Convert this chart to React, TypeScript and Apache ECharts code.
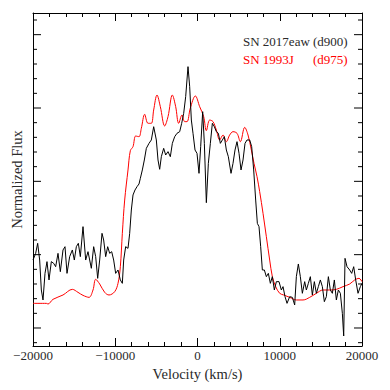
import React, { useEffect, useRef } from "react";
import * as echarts from "echarts";

const X_MIN = -20000;
const X_MAX = 20000;
const Y_MIN = -0.2455;
const Y_MAX = 4.2955;

const xTickInterval = 10000;

// SN 2017eaw (d900) — black
const eawVel = [
  -20000, -19676, -19433, -19189, -18987, -18784, -18541, -18298, -18054, -17771,
  -17487, -17244, -16960, -16677, -16352, -16109, -15866, -15542, -15217, -14974,
  -14731, -14488, -14245, -13920, -13596, -13313, -12907, -12624, -12380, -12137,
  -11894, -11610, -11408, -11164, -10921, -10678, -10435, -10192, -9949, -9665,
  -9381, -9138, -8976, -8733, -8449, -8246, -8044, -7841, -7598, -7355,
  -7111, -6949, -6706, -6463, -6220, -5896, -5612, -5328, -5004, -4801,
  -4599, -4396, -4112, -3869, -3585, -3302, -3058, -2775, -2491, -2167,
  -1924, -1680, -1437, -1154, -951, -748, -546, -302, -59, 184,
  387, 630, 833, 1076, 1319, 1562, 1805, 2048, 2292, 2535,
  2778, 3021, 3264, 3507, 3751, 4075, 4318, 4561, 4804, 5048,
  5291, 5534, 5777, 6020, 6345, 6588, 6831, 7074, 7277, 7479,
  7682, 7885, 8128, 8371, 8614, 8857, 9101, 9344, 9587, 9911,
  10195, 10398, 10641, 10884, 11208, 11532, 11816, 12019, 12262, 12505,
  12748, 13032, 13235, 13478, 13721, 13964, 14207, 14451, 14694, 14937,
  15180, 15423, 15666, 15910, 16153, 16396, 16639, 16882, 17125, 17369,
  17612, 17774, 17936, 18179, 18504, 18747, 18990, 19233, 19517, 19800,
  20000,
];
const eawFlux = [
  0.927, 1.018, 1.155, 0.927, 0.518, 0.382, 0.745, 0.905, 0.655, 0.905,
  0.882, 0.836, 1.018, 0.768, 1.064, 1.109, 0.745, 0.973, 1.064, 0.927,
  1.109, 1.155, 0.973, 1.382, 0.927, 1.041, 0.814, 1.109, 0.973, 0.677,
  0.927, 1.291, 1.2, 0.973, 1.109, 1.018, 1.041, 0.927, 0.745, 0.791,
  0.655, 0.609, 0.927, 1.109, 1.086, 1.291, 1.609, 1.814, 1.882, 1.927,
  1.964, 2.041, 2.155, 2.291, 2.45, 2.518, 2.564, 2.745, 2.564, 2.291,
  2.164, 2.336, 2.45, 2.359, 2.405, 2.336, 2.518, 2.609, 2.655, 2.677,
  2.791, 2.927, 3.155, 3.564, 3.291, 2.836, 2.655, 2.427, 2.382, 2.109,
  2.473, 2.95, 2.518, 1.709, 2.245, 2.518, 2.791, 2.745, 2.677, 2.655,
  2.518, 2.564, 2.609, 2.427, 2.336, 2.109, 2.245, 2.427, 2.541, 2.382,
  2.155, 2.291, 2.518, 2.564, 2.564, 2.473, 2.155, 1.745, 1.427, 1.382,
  1.109, 0.791, 0.791, 0.7, 0.745, 0.609, 0.7, 0.518, 0.632, 0.632,
  0.518, 0.564, 0.427, 0.336, 0.427, 0.418, 0.314, 0.7, 0.873, 0.7,
  0.473, 0.632, 0.518, 0.609, 0.7, 0.45, 0.632, 0.473, 0.564, 0.655,
  0.564, 0.359, 0.427, 0.7, 0.518, 0.473, 0.655, 0.382, 0.518, 0.473,
  0.2, -0.109, 0.95, 0.836, 0.791, 0.745, 0.836, 0.655, 0.473, 0.564,
  0.609,
];

// SN 1993J (d975) — red
const j93Vel = [
  -20000, -18379, -18176, -17568, -16352, -15217, -14528, -13920, -13191, -12705,
  -12380, -11894, -11286, -10759, -10070, -9665, -9381, -9138, -8854, -8449,
  -8165, -7841, -7517, -7111, -6828, -6422, -6017, -5612, -5328, -4923,
  -4518, -3991, -3585, -3058, -2653, -2288, -1883, -1559, -1275, -870,
  -262, 265, 751, 1076, 1481, 1886, 2292, 2697, 3102, 3507,
  3913, 4318, 4804, 5210, 5737, 6142, 6547, 6871, 7236, 7560,
  7966, 8371, 8776, 9101, 9506, 9992, 10479, 11208, 12019, 12829,
  13640, 14451, 15261, 16072, 16882, 17693, 18504, 19111, 19638, 20000,
];
const j93Flux = [
  0.336, 0.336, 0.327, 0.391, 0.45, 0.527, 0.486, 0.445, 0.418, 0.518,
  0.664, 0.6, 0.486, 0.45, 0.495, 0.609, 0.836, 1.291, 1.745, 2.155,
  2.418, 2.473, 2.618, 2.609, 2.723, 2.914, 2.791, 2.791, 2.973, 3.177,
  3.018, 2.755, 2.882, 3.177, 3.018, 2.791, 2.905, 2.814, 2.814, 3.0,
  3.164, 3.018, 2.882, 2.691, 2.836, 2.814, 2.7, 2.564, 2.632, 2.541,
  2.632, 2.677, 2.655, 2.541, 2.736, 2.632, 2.427, 2.245, 2.064, 1.859,
  1.564, 1.245, 0.927, 0.7, 0.564, 0.473, 0.45, 0.418, 0.382, 0.382,
  0.418, 0.473, 0.518, 0.518, 0.527, 0.564, 0.6, 0.655, 0.677, 0.632,
];

// y-axis tick positions (no labels); major ticks listed separately
const yTicks = [
  -0.2, 0, 0.2, 0.4, 0.6, 0.8, 1, 1.2, 1.4, 1.6, 1.8, 2, 2.2, 2.4, 2.6, 2.8, 3,
  3.2, 3.4, 3.6, 3.8, 4, 4.2,
];
const yMajor = [0, 1, 2, 3, 4];

const SERIF = "Liberation Serif";
const TEXT = "#2a2a2a";

export default function App() {
  const ref = useRef<HTMLDivElement>(null);

  useEffect(() => {
    if (!ref.current) return;
    const chart = echarts.init(ref.current, null, { renderer: "svg" });

    const eawData = eawVel.map((v, i) => [v, eawFlux[i]]);
    const j93Data = j93Vel.map((v, i) => [v, j93Flux[i]]);
    const tickData = yTicks.map((v) => [0, v, yMajor.includes(v) ? 1 : 0]);

    const xCommon = {
      type: "value" as const,
      min: X_MIN,
      max: X_MAX,
      interval: xTickInterval,
      splitLine: { show: false },
      axisLine: { show: true, onZero: false, lineStyle: { color: "#000", width: 1 } },
      axisTick: { show: true, inside: true, length: 8, lineStyle: { color: "#000" } },
      minorTick: { show: true, splitNumber: 5, length: 4, lineStyle: { color: "#000" } },
    };

    const yCommon = {
      type: "value" as const,
      min: Y_MIN,
      max: Y_MAX,
      splitLine: { show: false },
      axisLine: { show: true, onZero: false, lineStyle: { color: "#000", width: 1 } },
      axisTick: { show: false },
      axisLabel: { show: false },
    };

    const font = { fontFamily: SERIF, fontWeight: "normal" as const };

    chart.setOption({
      animation: false,
      backgroundColor: "#fff",
      textStyle: { fontFamily: SERIF },
      grid: { left: 33, right: 28, top: 13, bottom: 44, containLabel: false },
      legend: {
        orient: "vertical",
        left: 233,
        top: 30,
        icon: "none",
        itemWidth: 0,
        itemHeight: 13,
        itemGap: 5,
        selectedMode: false,
        data: ["SN 2017eaw", "SN 1993J"],
        formatter: (name: string) =>
          name === "SN 2017eaw"
            ? "{a|SN 2017eaw}{b|(d900)}"
            : "{c|SN 1993J}{d|(d975)}",
        textStyle: {
          ...font,
          fontSize: 13,
          rich: {
            a: { width: 70, color: TEXT, fontSize: 13, ...font },
            b: { color: TEXT, fontSize: 13, ...font },
            c: { width: 70, color: "#ff0000", fontSize: 13, ...font },
            d: { color: "#ff0000", fontSize: 13, ...font },
          },
        },
      },
      xAxis: [
        {
          ...xCommon,
          position: "bottom",
          name: "Velocity (km/s)",
          nameLocation: "middle",
          nameGap: 8,
          nameTextStyle: { ...font, fontSize: 14.5, color: TEXT },
          axisLabel: {
            show: true,
            margin: 3,
            ...font,
            fontSize: 13,
            color: TEXT,
            formatter: (v: number) => String(v).replace("-", "\u2212"),
          },
        },
        {
          ...xCommon,
          position: "top",
          axisLabel: { show: false },
        },
      ],
      yAxis: [
        {
          ...yCommon,
          position: "left",
          name: "Normalized Flux",
          nameLocation: "middle",
          nameGap: 9,
          nameTextStyle: { ...font, fontSize: 14.5, color: TEXT },
        },
        {
          ...yCommon,
          position: "right",
        },
      ],
      series: [
        {
          name: "SN 1993J",
          type: "line",
          data: j93Data,
          showSymbol: false,
          smooth: 0.35,
          lineStyle: { color: "#ff0000", width: 1 },
          itemStyle: { color: "#ff0000" },
          z: 2,
        },
        {
          name: "SN 2017eaw",
          type: "line",
          data: eawData,
          showSymbol: false,
          lineStyle: { color: "#000", width: 1 },
          itemStyle: { color: "#000" },
          z: 3,
        },
        {
          name: "yticks",
          type: "custom",
          data: tickData,
          silent: true,
          clip: false,
          z: 5,
          renderItem: (_params: any, api: any) => {
            const v = api.value(1);
            const len = api.value(2) ? 8 : 4;
            const l = api.coord([X_MIN, v]);
            const r = api.coord([X_MAX, v]);
            return {
              type: "group",
              children: [
                {
                  type: "line",
                  shape: { x1: l[0], y1: l[1], x2: l[0] + len, y2: l[1] },
                  style: { stroke: "#000", lineWidth: 1 },
                },
                {
                  type: "line",
                  shape: { x1: r[0] - len, y1: r[1], x2: r[0], y2: r[1] },
                  style: { stroke: "#000", lineWidth: 1 },
                },
              ],
            };
          },
        },
      ],
    });

    return () => chart.dispose();
  }, []);

  return (
    <div
      ref={ref}
      style={{ position: "fixed", left: 0, top: 0, width: 390, height: 390, background: "#fff" }}
    />
  );
}
